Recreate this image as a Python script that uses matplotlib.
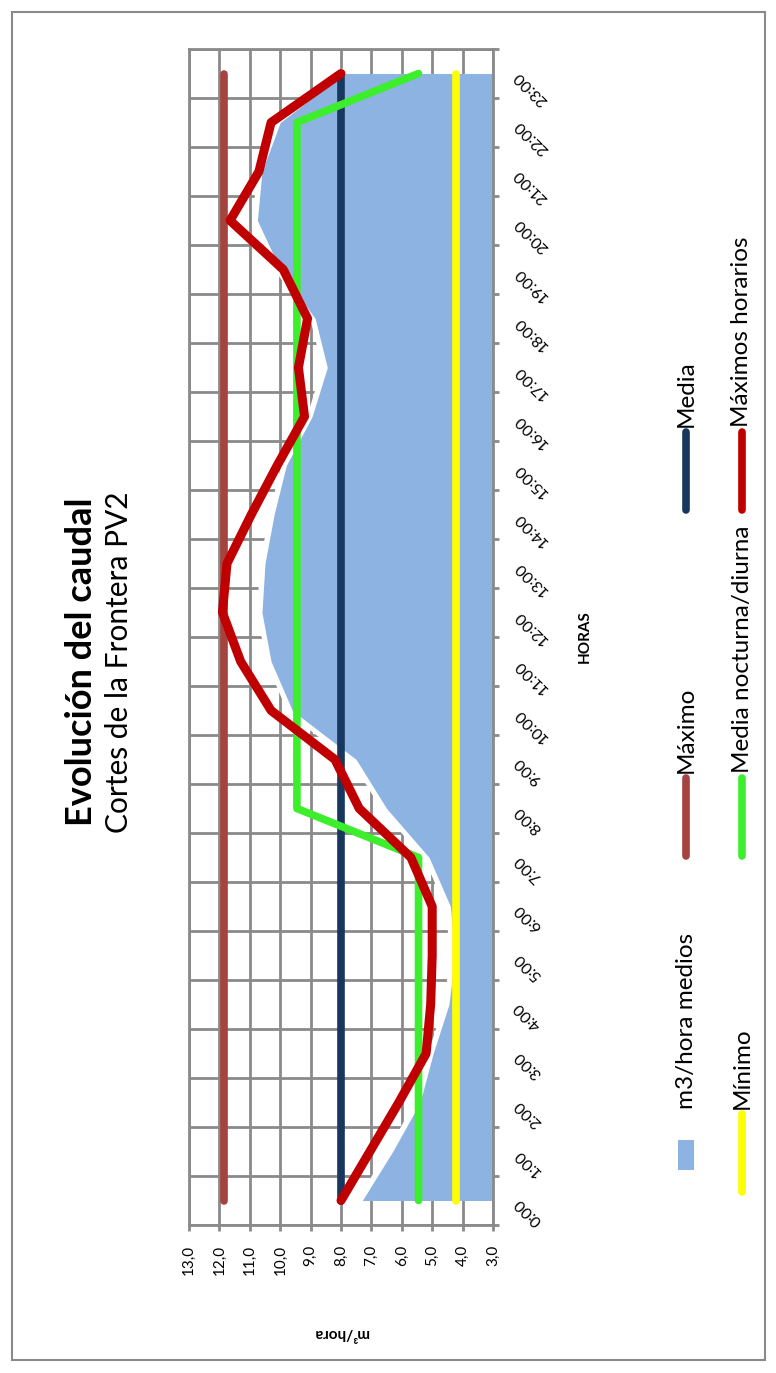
import numpy as np
import matplotlib
matplotlib.use("Agg")
import matplotlib.pyplot as plt
from matplotlib.lines import Line2D
from matplotlib.patches import Rectangle

plt.rcParams['font.family'] = ['Lato', 'DejaVu Sans']

# hourly categories
hour_labels = ["0:00", "1:00", "2:00", "3:00", "4:00", "5:00", "6:00", "7:00",
               "8:00", "9:00", "10:00", "11:00", "12:00", "13:00", "14:00", "15:00",
               "16:00", "17:00", "18:00", "19:00", "20:00", "21:00", "22:00", "23:00"]

# m3/hora medios (area)
caudal_medio = [7.3, 6.3, 5.4, 4.97, 4.45, 4.25, 4.4, 5.1, 6.5, 7.5, 9.6, 10.3,
                10.6, 10.5, 10.2, 9.8, 8.95, 8.45, 8.85, 10.0, 10.75, 10.6, 10.0, 7.9]
# Máximos horarios
maximos_horarios = [8.0, 7.05, 6.1, 5.2, 5.05, 5.0, 5.0, 5.7, 7.4, 8.2, 10.3, 11.3,
                    11.9, 11.75, 10.95, 10.1, 9.2, 9.4, 9.1, 9.9, 11.65, 10.7, 10.3, 8.0]
# Media nocturna/diurna
media_noct_diurna = [5.45, 5.45, 5.45, 5.45, 5.45, 5.45, 5.45, 5.45, 9.45, 9.45, 9.45, 9.45,
                     9.45, 9.45, 9.45, 9.45, 9.45, 9.45, 9.45, 9.45, 9.45, 9.45, 9.45, 5.45]
maximo = 11.85
media = 8.0
minimo = 4.22

value_ticks = [13, 12, 11, 10, 9, 8, 7, 6, 5, 4, 3]
value_labels = ["13,0", "12,0", "11,0", "10,0", "9,0", "8,0", "7,0", "6,0", "5,0", "4,0", "3,0"]

W, H = 776, 1373
c_fill = '#8DB3E2'
c_max = '#A5443F'
c_media = '#17375E'
c_min = '#FFFF00'
c_green = '#3DEE2C'
c_red = '#C00000'
c_grid = '#8A8A8A'

fig = plt.figure(figsize=(W / 100, H / 100), dpi=100)
ax = fig.add_axes([189 / W, 1 - 1225 / H, (493 - 189) / W, (1225 - 49) / H])

hours = np.arange(len(hour_labels))
n = len(hours)

# area with a white halo round its edge
ax.plot(caudal_medio, hours, color='white', lw=7, zorder=1.5, solid_joinstyle='round')
ax.fill_betweenx(hours, 3, caudal_medio, color=c_fill, lw=0, zorder=2)

line_kw = dict(solid_capstyle='round', solid_joinstyle='round')
ax.plot(np.full(n, maximo), hours, color=c_max, lw=5.5, zorder=3, **line_kw)
ax.plot(np.full(n, media), hours, color=c_media, lw=5.5, zorder=3.1, **line_kw)
ax.plot(np.full(n, minimo), hours, color=c_min, lw=5.5, zorder=3.2, **line_kw)
ax.plot(media_noct_diurna, hours, color=c_green, lw=5.5, zorder=3.3, **line_kw)
ax.plot(maximos_horarios, hours, color=c_red, lw=6.5, zorder=3.4, **line_kw)

ax.set_xlim(13, 3)
ax.set_ylim(-0.5, n - 0.5)

# value axis (bottom)
ax.set_xticks(value_ticks)
ax.set_xticklabels(value_labels, rotation=90, fontsize=11)
ax.tick_params(axis='x', length=4, width=2, color=c_grid, pad=10)

# category axis (right)
ax.yaxis.tick_right()
ax.set_yticks(hours)
ax.set_yticklabels(hour_labels, fontsize=11.5)
ax.set_yticks(np.arange(n + 1) - 0.5, minor=True)
ax.tick_params(axis='y', which='major', length=0, pad=17)
ax.tick_params(axis='y', which='minor', length=4, width=2, color=c_grid)
plt.setp(ax.get_yticklabels(), rotation=135, ha='right', va='center', rotation_mode='anchor')

ax.set_axisbelow(True)
ax.grid(axis='x', which='major', color=c_grid, lw=2)
ax.grid(axis='y', which='minor', color=c_grid, lw=2)
for s in ax.spines.values():
    s.set_color(c_grid)
    s.set_linewidth(2)

# titles
fig.text(82 / W, 1 - 662 / H, "Evolución del caudal", rotation=90, ha='center', va='center',
         fontsize=26, fontweight='bold')
fig.text(119 / W, 1 - 662 / H, "Cortes de la Frontera PV2", rotation=90, ha='center', va='center',
         fontsize=21.5)
fig.text(585 / W, 1 - 637 / H, "HORAS", rotation=90, ha='center', va='center',
         fontsize=11, fontweight='bold')
fig.text(341 / W, 1 - 1333 / H, "m³/hora", rotation=180, ha='center', va='center',
         fontsize=11, fontweight='bold')

# legend, drawn by hand because it is rotated: (label, colour, kind, x, key bottom, key top, text start)
legend = [("m3/hora medios", c_fill, 'patch', 686, 1170, 1140, 1109),
          ("Máximo", c_max, 'line', 686, 856, 778, 773),
          ("Media", c_media, 'line', 686, 510, 432, 427),
          ("Mínimo", c_min, 'line', 742, 1192, 1114, 1109),
          ("Media nocturna/diurna", c_green, 'line', 742, 856, 778, 773),
          ("Máximos horarios", c_red, 'line', 742, 510, 432, 427)]
for label, color, kind, x, k0, k1, t0 in legend:
    if kind == 'line':
        fig.add_artist(Line2D([x / W, x / W], [1 - k0 / H, 1 - k1 / H],
                              transform=fig.transFigure, color=color, lw=5.5,
                              solid_capstyle='round'))
    else:
        fig.add_artist(Rectangle(((x - 8) / W, 1 - k0 / H), 16 / W, (k0 - k1) / H,
                                 transform=fig.transFigure, color=color, lw=0))
    fig.text(x / W, 1 - t0 / H, label, rotation=90, ha='center', va='bottom', fontsize=17.5)

# chart area border
fig.add_artist(Rectangle((12 / W, 1 - 1360 / H), (765 - 12) / W, (1360 - 12) / H,
                         transform=fig.transFigure, fill=False, edgecolor='#8A8A8A', lw=1.5))

fig.savefig("out.png", dpi=100, facecolor='white')
